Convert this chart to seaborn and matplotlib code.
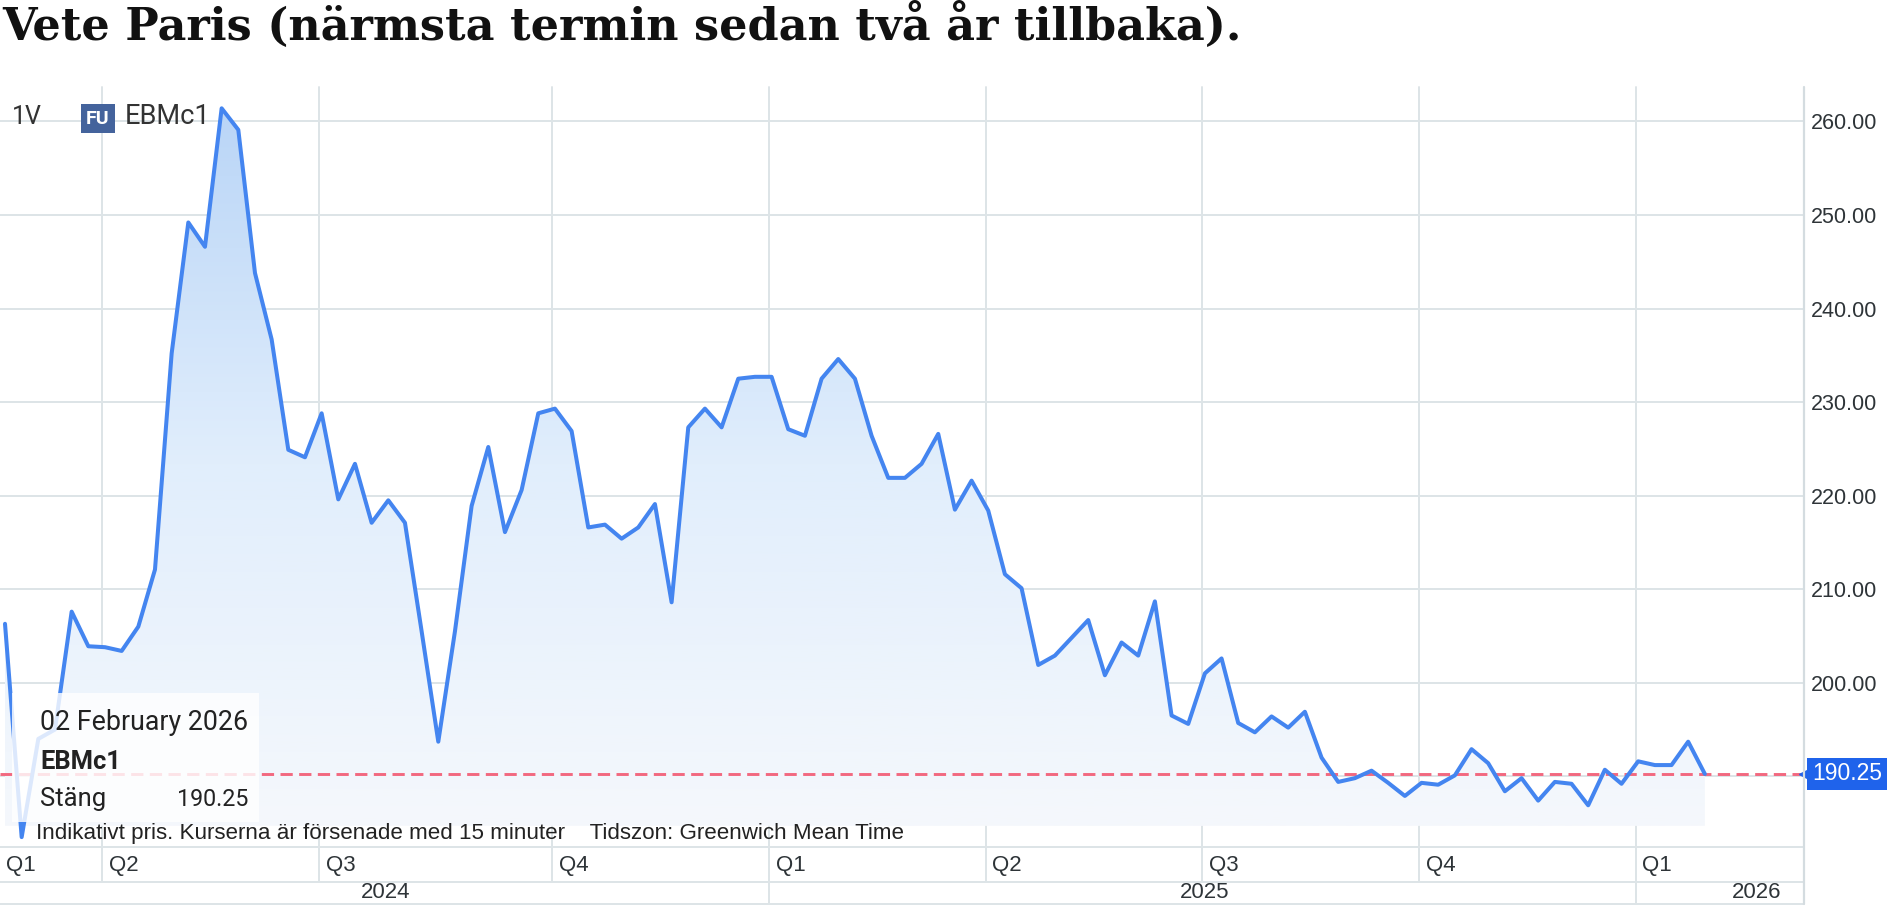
import matplotlib
matplotlib.use('Agg')
import matplotlib.pyplot as plt
import numpy as np
import pandas as pd
import seaborn as sns
from matplotlib.colors import LinearSegmentedColormap
from matplotlib.lines import Line2D
from matplotlib.patches import Polygon, Rectangle
from matplotlib.transforms import blended_transform_factory

title = 'Vete Paris (närmsta termin sedan två år tillbaka).'
symbol = 'EBMc1'
period = '1V'
last_date = '02 February 2026'
close_label = 'Stäng'
note = 'Indikativt pris. Kurserna är försenade med 15 minuter    Tidszon: Greenwich Mean Time'

# weekly closes, Monday 19 Feb 2024 .. Monday 02 Feb 2026
dates = pd.date_range('2024-02-19', '2026-02-02', freq='W-MON')
prices = [
    206.3, 183.5, 194.0, 195.0, 207.6, 203.9, 203.8, 203.4, 206.0, 212.1,
    235.2, 249.2, 246.6, 261.4, 259.1, 243.8, 236.7, 224.9, 224.1, 228.8,
    219.6, 223.4, 217.1, 219.5, 217.1, 205.5, 193.7, 205.5, 218.9, 225.2,
    216.1, 220.6, 228.8, 229.3, 226.9, 216.6, 216.9, 215.4, 216.6, 219.1,
    208.6, 227.3, 229.3, 227.3, 232.5, 232.7, 232.7, 227.1, 226.4, 232.5,
    234.6, 232.5, 226.4, 221.9, 221.9, 223.4, 226.6, 218.5, 221.6, 218.4,
    211.6, 210.1, 201.9, 202.9, 204.8, 206.7, 200.8, 204.3, 202.9, 208.7,
    196.5, 195.6, 201.0, 202.6, 195.7, 194.7, 196.4, 195.2, 196.9, 192.0,
    189.4, 189.8, 190.6, 189.3, 187.9, 189.3, 189.1, 190.1, 192.9, 191.4,
    188.4, 189.8, 187.4, 189.4, 189.2, 186.9, 190.7, 189.2, 191.6, 191.2,
    191.2, 193.7, 190.25,
]
last_price = 190.25

quarter_labels = ['Q1', 'Q2', 'Q3', 'Q4', 'Q1', 'Q2', 'Q3', 'Q4', 'Q1']
quarter_starts = ['2024-01-01', '2024-04-01', '2024-07-01', '2024-10-01', '2025-01-01',
                  '2025-04-01', '2025-07-01', '2025-10-01', '2026-01-01']
year_labels = ['2024', '2025', '2026']
y_ticks = [200, 210, 220, 230, 240, 250, 260]

W, H = 1890, 907


def fx(px):
    return px / W


def fy(py):
    return 1 - py / H


def fit_width(fig, t, width_px):
    fig.canvas.draw()
    w = t.get_window_extent().width
    t.set_fontsize(t.get_fontsize() * width_px / w)


def main() -> None:
    sns.set_theme(style='white')
    plt.rcParams['font.family'] = ['Liberation Sans', 'DejaVu Sans']
    ui_font = ['Roboto', 'DejaVu Sans']

    df = pd.DataFrame({'date': dates, 'price': prices})
    df['idx'] = np.arange(len(df))
    q_idx = [int(np.searchsorted(df['date'].values, np.datetime64(q))) for q in quarter_starts]

    fig = plt.figure(figsize=(W / 100, H / 100), dpi=100)
    fig.patch.set_facecolor('white')
    ax = fig.add_axes([0, fy(847.4), fx(1804), fy(86.8) - fy(847.4)])
    ax.set_facecolor('white')

    grid_c = '#dde4e7'
    ymin, ymax = 182.4, 263.7
    xmin, xmax = -0.3, 107.95

    # gradient area under the line
    base = 184.7
    verts = [(0, base)] + list(zip(df['idx'], df['price'])) + [(df['idx'].iloc[-1], base)]
    poly = Polygon(verts, closed=True, facecolor='none', edgecolor='none')
    ax.add_patch(poly)
    cmap = LinearSegmentedColormap.from_list('fill', ['#f5f8fc', '#e1eefc', '#b9d5f7'])
    grad = np.linspace(0, 1, 256).reshape(-1, 1)
    im = ax.imshow(grad, extent=[0, df['idx'].iloc[-1], base, 262], origin='lower',
                   cmap=cmap, aspect='auto', zorder=1)
    im.set_clip_path(poly)

    for y in [190] + y_ticks:
        ax.axhline(y, color=grid_c, lw=1.4, zorder=0.5)

    sns.lineplot(data=df, x='idx', y='price', color='#4485f0', linewidth=2.9, ax=ax, zorder=3)
    ax.axhline(last_price, color='#f2687f', lw=2.1, dashes=(4.2, 2.2), zorder=2.5)

    ax.set_xlim(xmin, xmax)
    ax.set_ylim(ymin, ymax)
    ax.set_xticks([])
    ax.set_yticks(y_ticks)
    ax.set_yticklabels([f'{v:.2f}' for v in y_ticks])
    ax.yaxis.tick_right()
    ax.tick_params(axis='y', length=0, pad=5, labelsize=15.5, labelcolor='#2e3438')
    ax.set_xlabel('')
    ax.set_ylabel('')
    for s in ax.spines.values():
        s.set_visible(False)

    blend = blended_transform_factory(ax.transData, fig.transFigure)
    # vertical quarter lines through plot and label rows
    for k, qi in enumerate(q_idx):
        if qi == 0:
            continue
        bottom = fy(904) if quarter_labels[k] == 'Q1' else fy(882)
        ax.add_line(Line2D([qi - 0.15, qi - 0.15], [bottom, fy(86.8)], transform=blend,
                           color=grid_c, lw=1.4, clip_on=False, zorder=0.5))
    for py in [847.4, 882, 904]:
        fig.add_artist(Line2D([0, fx(1804)], [fy(py), fy(py)], color=grid_c, lw=1.4))
    fig.add_artist(Line2D([fx(1804), fx(1804)], [fy(904), fy(86.8)], color='#d4dce0', lw=1.6))

    for k, qi in enumerate(q_idx):
        ax.text(qi + 0.25 if qi > 0 else 0.05, fy(865), quarter_labels[k], transform=blend,
                ha='left', va='center', fontsize=16, color='#2e3438')
    ax.text((xmin + q_idx[4]) / 2, fy(892), year_labels[0], transform=blend,
            ha='center', va='center', fontsize=16, color='#2e3438')
    ax.text((q_idx[4] + q_idx[8]) / 2, fy(892), year_labels[1], transform=blend,
            ha='center', va='center', fontsize=16, color='#2e3438')
    ax.text(106.6, fy(892), year_labels[2], transform=blend,
            ha='right', va='center', fontsize=16, color='#2e3438')

    # header inside chart
    t_period = fig.text(fx(12), fy(117), period, fontsize=19, color='#333333', va='center',
                        family=ui_font)
    fig.add_artist(Rectangle((fx(81), fy(133)), fx(34), fy(104) - fy(133),
                             facecolor='#44639c', edgecolor='none', transform=fig.transFigure))
    fig.text(fx(98), fy(118.5), 'FU', fontsize=14, color='white', fontweight='bold',
             ha='center', va='center', family=ui_font)
    t_sym = fig.text(fx(125), fy(117), symbol, fontsize=19, color='#333333', va='center',
                     family=ui_font)

    # tooltip box
    ax.add_patch(Rectangle((fx(12), fy(822)), fx(259 - 12), fy(693) - fy(822),
                           transform=fig.transFigure, facecolor='white', alpha=0.82,
                           edgecolor='none', zorder=5, clip_on=False))
    t_date = fig.text(fx(40), fy(723), last_date, fontsize=16, color='#222222', va='center',
                      family=ui_font, zorder=6)
    t_sym2 = fig.text(fx(40), fy(762), symbol, fontsize=18, color='#222222', va='center',
                      fontweight='bold', family=ui_font, zorder=6)
    t_close = fig.text(fx(40), fy(799), close_label, fontsize=18, color='#222222', va='center',
                       family=ui_font, zorder=6)
    t_val = fig.text(fx(248), fy(799), f'{last_price:.2f}', fontsize=18, color='#222222',
                     va='center', ha='right', family=ui_font, zorder=6)
    t_note = fig.text(fx(36), fy(833), note, fontsize=14, color='#222222', va='center', zorder=6)

    # last price tag
    fig.text(fx(1812), fy(774), f'{last_price:.2f}', fontsize=16.5, color='white', va='center',
             ha='left', bbox=dict(boxstyle='square,pad=0.2', facecolor='#1f63eb',
                                  edgecolor='none'))
    ax.plot([xmax + 0.05], [last_price], marker='<', color='#1f63eb', markersize=9,
            clip_on=False, zorder=6)

    t_title = fig.text(fx(2), fy(25), title, fontsize=30, fontweight='bold',
                       family=['DejaVu Serif'], color='#111111', ha='left', va='center')

    fit_width(fig, t_title, 1240)
    fit_width(fig, t_note, 873)
    fit_width(fig, t_date, 208)
    fit_width(fig, t_period, 30)
    fit_width(fig, t_sym, 86)
    fit_width(fig, t_sym2, 81)
    fit_width(fig, t_close, 66)
    fit_width(fig, t_val, 71)

    fig.savefig('out.png', dpi=100, facecolor='white')


if __name__ == '__main__':
    main()
